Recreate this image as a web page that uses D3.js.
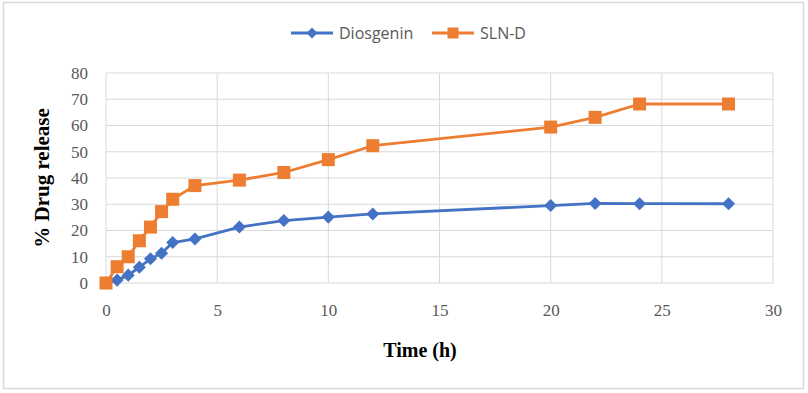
<!DOCTYPE html>
<html>
<head>
<meta charset="utf-8">
<script src="https://cdn.jsdelivr.net/npm/d3@7"></script>
<style>
  body { margin: 0; background: #fff; }
  svg { display: block; }
</style>
</head>
<body>
<div id="chart"></div>
<script>
// DATA
const times = [0, 0.5, 1, 1.5, 2, 2.5, 3, 4, 6, 8, 10, 12, 20, 22, 24, 28];
const diosgenin = [0, 1.1, 3.0, 6.0, 9.2, 11.3, 15.4, 16.8, 21.3, 23.8, 25.1, 26.3, 29.5, 30.3, 30.2, 30.2];
const slnD = [0, 6.2, 10.0, 16.1, 21.3, 27.2, 31.9, 37.1, 39.2, 42.1, 47.0, 52.3, 59.4, 63.1, 68.2, 68.2];
const xTicks = [0, 5, 10, 15, 20, 25, 30];
const yTicks = [0, 10, 20, 30, 40, 50, 60, 70, 80];
const seriesNames = ["Diosgenin", "SLN-D"];
const seriesColors = ["#4472C4", "#ED7D31"];

const width = 808, height = 393;
const margin = { top: 73, right: 35, bottom: 110, left: 106 };

const svg = d3.select("#chart").append("svg")
  .attr("width", width)
  .attr("height", height);

// chart border
svg.append("rect")
  .attr("x", 3.5).attr("y", 2.5)
  .attr("width", 800).attr("height", 386)
  .attr("fill", "#fff")
  .attr("stroke", "#d9d9d9")
  .attr("stroke-width", 1.5);

const x = d3.scaleLinear().domain([0, 30]).range([margin.left, width - margin.right]);
const y = d3.scaleLinear().domain([0, 80]).range([height - margin.bottom, margin.top]);

// GRID
const grid = svg.append("g");
grid.selectAll(".hg").data(yTicks).join("line")
  .attr("x1", x(0)).attr("x2", x(30))
  .attr("y1", d => y(d)).attr("y2", d => y(d))
  .attr("stroke", "#d9d9d9").attr("stroke-width", 1);
grid.selectAll(".vg").data(xTicks).join("line")
  .attr("x1", d => x(d)).attr("x2", d => x(d))
  .attr("y1", y(0)).attr("y2", y(80))
  .attr("stroke", "#d9d9d9").attr("stroke-width", 1);

// AXES
const xAxis = svg.append("g")
  .attr("transform", `translate(0,${y(0) + 20})`)
  .call(d3.axisBottom(x).tickValues(xTicks).tickSize(0).tickPadding(0));
const yAxis = svg.append("g")
  .attr("transform", `translate(${x(0) - 18},0)`)
  .call(d3.axisLeft(y).tickValues(yTicks).tickSize(0).tickPadding(0));
[xAxis, yAxis].forEach(g => {
  g.select(".domain").remove();
  g.selectAll("text")
    .attr("fill", "#595959")
    .style("font-family", "'Liberation Serif', 'Times New Roman', serif")
    .style("font-size", "17px");
});
xAxis.selectAll("text").attr("dy", "0.75em");

svg.append("text")
  .attr("x", 420).attr("y", 357)
  .attr("text-anchor", "middle")
  .style("font-family", "'Liberation Serif', 'Times New Roman', serif")
  .style("font-weight", "bold")
  .style("font-size", "20px")
  .text("Time (h)");

svg.append("text")
  .attr("transform", `translate(49,178) rotate(-90)`)
  .attr("text-anchor", "middle")
  .style("font-family", "'Liberation Serif', 'Times New Roman', serif")
  .style("font-weight", "bold")
  .style("font-size", "21px")
  .text("% Drug release");

// SERIES
const series = [diosgenin, slnD].map((vals, i) => ({
  name: seriesNames[i],
  color: seriesColors[i],
  points: times.map((t, j) => ({ t, v: vals[j] }))
}));

const line = d3.line().x(d => x(d.t)).y(d => y(d.v));
const diamondPath = d3.symbol().type(d3.symbolSquare).size(85)();
const squarePath = d3.symbol().type(d3.symbolSquare).size(169)();
const markerPath = [diamondPath, squarePath];
const markerRot = [45, 0];

series.forEach((s, i) => {
  const g = svg.append("g");
  g.append("path")
    .datum(s.points)
    .attr("d", line)
    .attr("fill", "none")
    .attr("stroke", s.color)
    .attr("stroke-width", 2.8)
    .attr("stroke-linejoin", "round");
  g.selectAll("path.m").data(s.points).join("path")
    .attr("class", "m")
    .attr("d", markerPath[i])
    .attr("transform", d => `translate(${x(d.t)},${y(d.v)}) rotate(${markerRot[i]})`)
    .attr("fill", s.color)
    .attr("stroke", "none");
});

// LEGEND
const legendX = [291, 432];
const legendMarker = [d3.symbol().type(d3.symbolSquare).size(60)(), d3.symbol().type(d3.symbolSquare).size(121)()];
series.forEach((s, i) => {
  const lg = svg.append("g").attr("transform", `translate(${legendX[i]},33)`);
  lg.append("line")
    .attr("x1", 0).attr("x2", 42)
    .attr("stroke", s.color).attr("stroke-width", 2.8);
  lg.append("path")
    .attr("d", legendMarker[i])
    .attr("transform", `translate(21,0) rotate(${markerRot[i]})`)
    .attr("fill", s.color);
  lg.append("text")
    .attr("x", 48).attr("y", 0).attr("dy", "0.35em")
    .attr("fill", "#595959")
    .style("font-family", "'Open Sans', 'Liberation Sans', sans-serif")
    .style("font-size", "16px")
    .text(s.name);
});
</script>
</body>
</html>
